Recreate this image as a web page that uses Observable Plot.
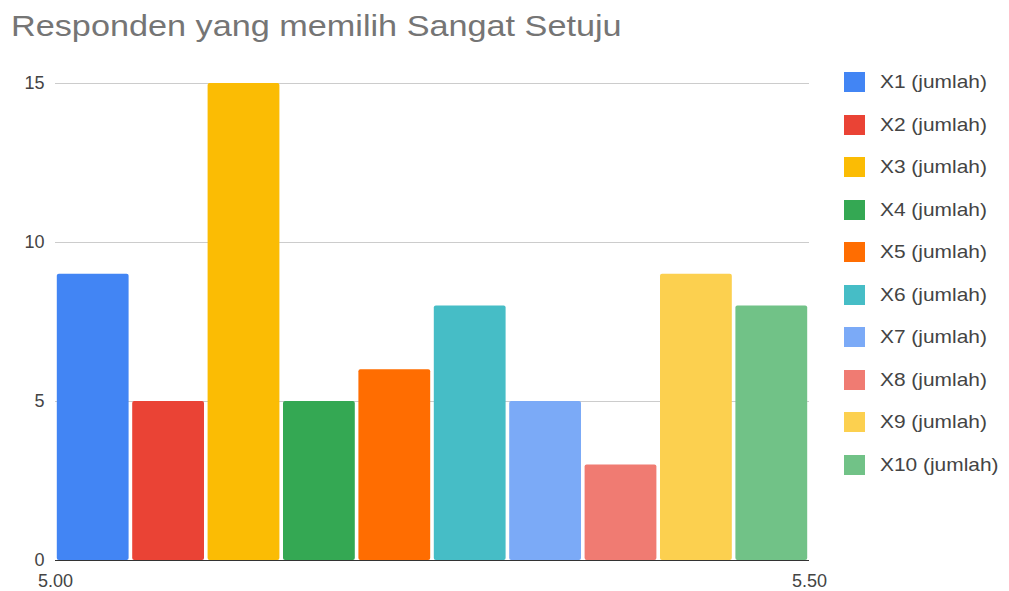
<!DOCTYPE html>
<html>
<head>
<meta charset="utf-8">
<script src="https://cdn.jsdelivr.net/npm/d3@7"></script>
<script src="https://cdn.jsdelivr.net/npm/@observablehq/plot@0.6"></script>
<style>
  html, body { margin: 0; padding: 0; background: #fff; }
  #wrap { position: relative; width: 1009px; height: 591px; overflow: hidden; font-family: "Liberation Sans", Arial, sans-serif; }
  #title { position: absolute; left: 11px; top: 10px; font-size: 29px; color: #757575; white-space: nowrap; transform: scaleX(1.18); transform-origin: 0 0; }
  #chart { position: absolute; left: 0; top: 0; }
  #legend { position: absolute; left: 844px; top: 72px; }
  .item { position: relative; height: 42.5px; }
  .sw { position: absolute; left: 0; top: 0; width: 21px; height: 20px; }
  .lab { position: absolute; left: 36px; top: -1px; font-size: 19px; line-height: 22px; color: #444; white-space: nowrap; transform: scaleX(1.1); transform-origin: 0 0; }
</style>
</head>
<body>
<div id="wrap">
  <div id="chart"></div>
  <div id="title">Responden yang memilih Sangat Setuju</div>
  <div id="legend"></div>
</div>
<script>
const series = ["X1 (jumlah)", "X2 (jumlah)", "X3 (jumlah)", "X4 (jumlah)", "X5 (jumlah)", "X6 (jumlah)", "X7 (jumlah)", "X8 (jumlah)", "X9 (jumlah)", "X10 (jumlah)"];
const values = [9, 5, 15, 5, 6, 8, 5, 3, 9, 8];
const colors = ["#4285F4", "#EA4335", "#FBBC04", "#34A853", "#FF6D01", "#46BDC6", "#7BAAF7", "#F07B72", "#FCD04F", "#71C287"];
const xStart = 5.0;
const xEnd = 5.5;
const xTicks = [5.0, 5.5];
const yTicks = [0, 5, 10, 15];

const step = (xEnd - xStart) / series.length;
const data = series.map((s, i) => ({ s, v: values[i], x1: xStart + i * step, x2: xStart + (i + 1) * step }));

const chart = Plot.plot({
  width: 1009,
  height: 591,
  marginTop: 83,
  marginBottom: 31,
  marginLeft: 55,
  marginRight: 200,
  style: { fontFamily: "'Liberation Sans', Arial, sans-serif", fontSize: "18px", color: "#444", background: "transparent" },
  x: { domain: [xStart, xEnd], ticks: xTicks, tickFormat: d3.format(".2f"), tickSize: 0, tickPadding: 14, label: null },
  y: { domain: [0, 15], ticks: yTicks, tickSize: 0, tickPadding: 11, label: null },
  color: { domain: series, range: colors },
  marks: [
    Plot.gridY(yTicks, { stroke: "#ccc", strokeOpacity: 1, strokeWidth: 1 }),
    Plot.rectY(data, { x1: "x1", x2: "x2", y: "v", fill: "s", insetLeft: 1.8, insetRight: 1.8, rx: 2 }),
    Plot.ruleY([0], { stroke: "#333", strokeWidth: 1 })
  ]
});
document.getElementById("chart").appendChild(chart);

const legend = document.getElementById("legend");
series.forEach((s, i) => {
  const item = document.createElement("div");
  item.className = "item";
  const sw = document.createElement("div");
  sw.className = "sw";
  sw.style.background = colors[i];
  const lab = document.createElement("div");
  lab.className = "lab";
  lab.textContent = s;
  item.appendChild(sw);
  item.appendChild(lab);
  legend.appendChild(item);
});
</script>
</body>
</html>
